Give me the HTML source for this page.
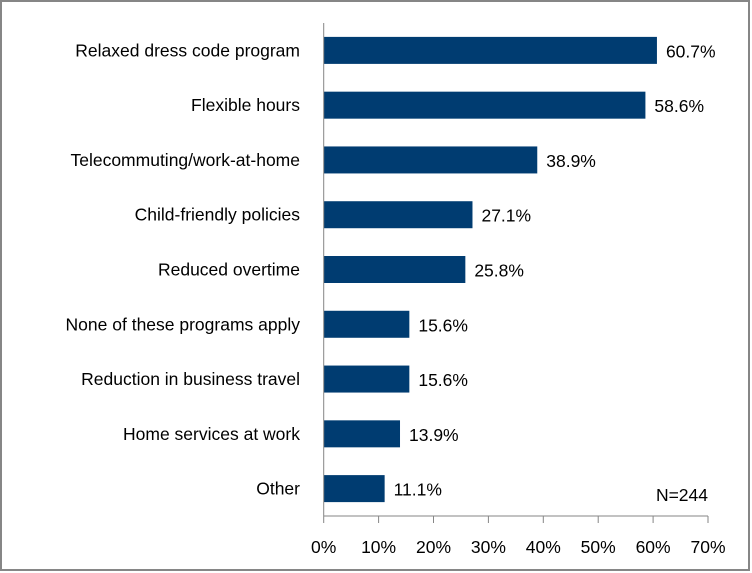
<!DOCTYPE html>
<html><head><meta charset="utf-8"><style>
html,body{margin:0;padding:0;background:#fff;}
svg{display:block;font-family:"Liberation Sans",sans-serif;}
</style></head><body>
<svg id="chart" width="752" height="573">
<rect x="1" y="1" width="748" height="569" fill="#fff" stroke="#868686" stroke-width="2"/>
<g id="plot"></g>
</svg>
<script>
const categories=["Relaxed dress code program","Flexible hours","Telecommuting/work-at-home","Child-friendly policies","Reduced overtime","None of these programs apply","Reduction in business travel","Home services at work","Other"];
const values=[60.7,58.6,38.9,27.1,25.8,15.6,15.6,13.9,11.1];
const ticks=[0,10,20,30,40,50,60,70];
const X0=323.7,X1=708,TOP=23,BOT=516;
const x=v=>X0+(v/70)*(X1-X0);
const band=(BOT-TOP)/categories.length;
const y=i=>TOP+band*i+band/2;
const NS="http://www.w3.org/2000/svg";
const g=document.getElementById('plot');
function mk(t,a,txt){const e=document.createElementNS(NS,t);for(const k in a)e.setAttribute(k,a[k]);if(txt!==undefined)e.textContent=txt;g.appendChild(e);return e;}
categories.forEach((c,i)=>{
  const b=mk('rect',{x:X0,y:y(i)-13.5,width:x(values[i])-X0,height:27,fill:'#003c71'});
  
  
  const l=mk('text',{x:300,y:y(i)+6,'text-anchor':'end','font-size':17.5,fill:'#000'},c);
  
  
  const v=mk('text',{x:x(values[i])+9,y:y(i)+7,'font-size':17.5,fill:'#000'},values[i].toFixed(1)+'%');
  
  
});
const ya=mk('line',{x1:X0,y1:TOP,x2:X0,y2:BOT,stroke:'#868686','stroke-width':1});


const xa=mk('line',{x1:X0,y1:BOT,x2:X1,y2:BOT,stroke:'#868686','stroke-width':1});


ticks.forEach(t=>{
  const tk=mk('line',{x1:x(t),y1:BOT,x2:x(t),y2:BOT+7,stroke:'#868686','stroke-width':1});
  
  
  const tl=mk('text',{x:x(t),y:553,'text-anchor':'middle','font-size':17.5,fill:'#000'},t+'%');
  
  
});
const n=mk('text',{x:708,y:501,'text-anchor':'end','font-size':17.5,fill:'#000'},'N=244');


</script>
</body></html>
